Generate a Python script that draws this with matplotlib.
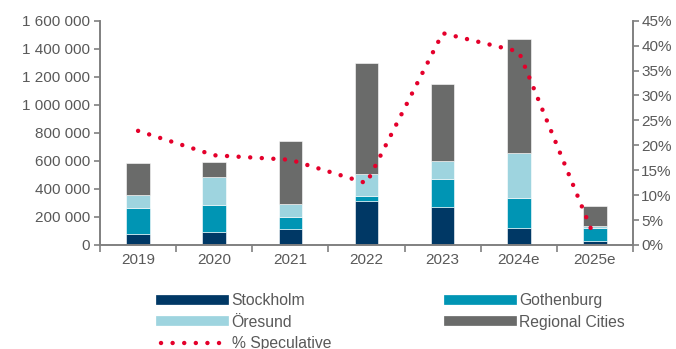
import matplotlib.pyplot as plt
import numpy as np
from matplotlib.lines import Line2D
from matplotlib.ticker import FuncFormatter, MultipleLocator

plt.rcParams['font.family'] = ['Liberation Sans', 'DejaVu Sans']

years = ['2019', '2020', '2021', '2022', '2023', '2024e', '2025e']
stockholm = [80000, 95000, 116000, 312000, 274000, 121000, 31000]
gothenburg = [186000, 193000, 86000, 38000, 195000, 212000, 93000]
oresund = [91000, 195000, 91000, 155000, 131000, 324000, 14000]
regional = [226000, 110000, 450000, 793000, 548000, 812000, 138000]
speculative = [22.9, 18.0, 17.1, 12.4, 42.5, 38.8, 1.3]

series = [
    ('Stockholm', stockholm, '#003865'),
    ('Gothenburg', gothenburg, '#0095B4'),
    ('Öresund', oresund, '#9ED4DF'),
    ('Regional Cities', regional, '#6A6B6A'),
]
red = '#E4002B'
grey = '#595959'
spine = '#808080'
dotted = (0, (0.01, 2.6))

fig = plt.figure(figsize=(6.76, 3.49), dpi=100)
ax = fig.add_axes([100 / 676, 1 - 245 / 349, 533 / 676, 224.3 / 349])
ax2 = ax.twinx()

x = np.arange(len(years))
bottom = np.zeros(len(years))
for name, vals, col in series:
    ax.bar(x, vals, 0.31, bottom=bottom, color=col, edgecolor='white', linewidth=0.4)
    bottom += np.array(vals)

ax2.plot(x, np.array(speculative) / 100, color=red, linestyle=dotted,
         linewidth=3.2, dash_capstyle='round')

ax.set_xlim(-0.5, len(years) - 0.5)
ax.set_ylim(0, 1600000)
ax2.set_ylim(0, 0.45)

ax.yaxis.set_major_locator(MultipleLocator(200000))
ax.yaxis.set_major_formatter(FuncFormatter(lambda v, p: f'{int(v):,}'.replace(',', ' ')))
ax2.yaxis.set_major_locator(MultipleLocator(0.05))
ax2.yaxis.set_major_formatter(FuncFormatter(lambda v, p: f'{round(v * 100)}%'))

ax.set_xticks(x)
ax.set_xticklabels(years)
ax.set_xticks(np.arange(-0.5, len(years)), minor=True)
ax.tick_params(axis='x', which='major', length=0, pad=6)
ax.tick_params(axis='x', which='minor', length=5, color=spine, width=1.2)

for a in (ax, ax2):
    a.spines['top'].set_visible(False)
    for s in ('left', 'right', 'bottom'):
        a.spines[s].set_color(spine)
        a.spines[s].set_linewidth(1.2)
    a.tick_params(labelsize=11, labelcolor=grey, color=spine, width=1.2)
ax.tick_params(axis='y', length=4, pad=3)
ax2.tick_params(axis='y', length=4, pad=2)

handles = [
    Line2D([], [], color=series[0][2], lw=7),
    Line2D([], [], color=series[2][2], lw=7),
    Line2D([], [], color=red, lw=3.2, linestyle=dotted, dash_capstyle='round'),
    Line2D([], [], color=series[1][2], lw=7),
    Line2D([], [], color=series[3][2], lw=7),
]
labels = ['Stockholm', 'Öresund', '% Speculative', 'Gothenburg', 'Regional Cities']
fig.legend(handles, labels, ncol=2, loc='upper left', bbox_to_anchor=(161 / 676, 1 - 293 / 349),
           frameon=False, fontsize=11.3, labelcolor=grey, handlelength=4.0,
           handletextpad=0.5, columnspacing=7.5, labelspacing=0.42,
           borderaxespad=0, borderpad=0)

fig.savefig('out.png', dpi=100)
